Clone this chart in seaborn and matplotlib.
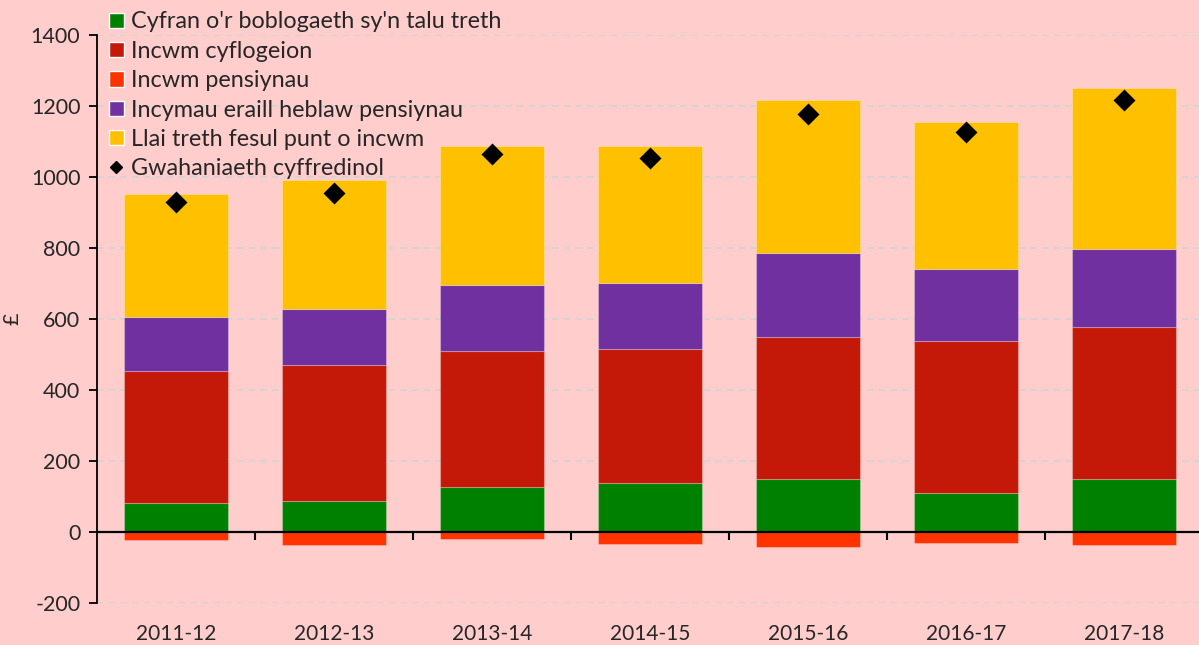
import numpy as np
import seaborn as sns
import matplotlib.pyplot as plt
from matplotlib.patches import Patch
from matplotlib.lines import Line2D

# values (£)
years = ['2011-12', '2012-13', '2013-14', '2014-15', '2015-16', '2016-17', '2017-18']
taxpayers = [82, 88, 128, 139, 150, 111, 150]
employee_income = [371, 382, 381, 376, 398, 426, 427]
pension_income = [-23, -36, -19, -35, -41, -30, -36]
other_income = [152, 157, 186, 186, 237, 203, 219]
tax_per_pound = [348, 365, 392, 386, 432, 415, 455]
overall_diff = [929, 956, 1064, 1053, 1177, 1126, 1216]

labels = ["Cyfran o'r boblogaeth sy'n talu treth", 'Incwm cyflogeion', 'Incwm pensiynau',
          'Incymau eraill heblaw pensiynau', 'Llai treth fesul punt o incwm', 'Gwahaniaeth cyffredinol']
colors = ['#008000', '#C41808', '#FF3300', '#7030A0', '#FFC000']
bg = '#FFCDCC'

sns.set_style('white')
plt.rcParams['font.family'] = ['Lato', 'DejaVu Sans']
plt.rcParams['axes.unicode_minus'] = False

fig = plt.figure(figsize=(11.99, 6.45), dpi=100, facecolor=bg)
ax = fig.add_axes([97 / 1199, 42 / 645, 1106 / 1199, 568 / 645], facecolor=bg)

# stack the positive pieces on top of each other, pensions go below zero
stack = [taxpayers, employee_income, other_income, tax_per_pound]
stack_colors = [colors[0], colors[1], colors[3], colors[4]]
bottom = np.zeros(len(years))
for vals, c in zip(stack, stack_colors):
    sns.barplot(x=years, y=vals, bottom=bottom, color=c, saturation=1, width=0.655,
                edgecolor=(1, 1, 1, 0.25), linewidth=0.8, ax=ax)
    bottom = bottom + np.array(vals)
sns.barplot(x=years, y=pension_income, color=colors[2], saturation=1, width=0.655,
            edgecolor=(1, 1, 1, 0.25), linewidth=0.8, ax=ax)

sns.pointplot(x=years, y=overall_diff, color='black', marker='D', markersize=9,
              linestyle='none', errorbar=None, ax=ax)

ax.set_xlim(-0.5, len(years) - 0.5)
ax.set_ylim(-200, 1400)
ax.set_yticks(range(-200, 1401, 200))
ax.set_axisbelow(True)
ax.yaxis.grid(True, color='#D2D4D4', linestyle=(0, (4, 3)), linewidth=1.2)
ax.xaxis.grid(False)

for s in ['top', 'right', 'bottom']:
    ax.spines[s].set_visible(False)
ax.spines['left'].set_color('black')
ax.spines['left'].set_linewidth(1.3)
ax.tick_params(axis='y', length=6, width=1.3, color='black', direction='out', pad=6,
               labelsize=15.5, left=True)
ax.tick_params(axis='x', length=0, pad=15, labelsize=15)
ax.set_xlabel('')
ax.set_ylabel('£', fontsize=15.5, labelpad=6)

# zero line with ticks between the categories
ax.axhline(0, color='black', linewidth=1.6, zorder=5)
zero = ax.secondary_xaxis(0, transform=ax.transData)
zero.set_xticks(np.arange(len(years) - 1) + 0.5)
zero.set_xticklabels([])
zero.tick_params(length=6, width=1.5, color='black', direction='out')
zero.spines['bottom'].set_visible(False)

handles = [Patch(facecolor=c) for c in colors]
handles.append(Line2D([], [], marker='D', color='black', linestyle='none', markersize=6))
fig.legend(handles, labels, loc='upper left', bbox_to_anchor=(0.089, 0.986), frameon=False,
           fontsize=16.8, handlelength=0.62, handleheight=0.62, handletextpad=0.3,
           labelspacing=0.36, borderpad=0.1, borderaxespad=0)

fig.savefig('out.png', dpi=100, facecolor=bg)
